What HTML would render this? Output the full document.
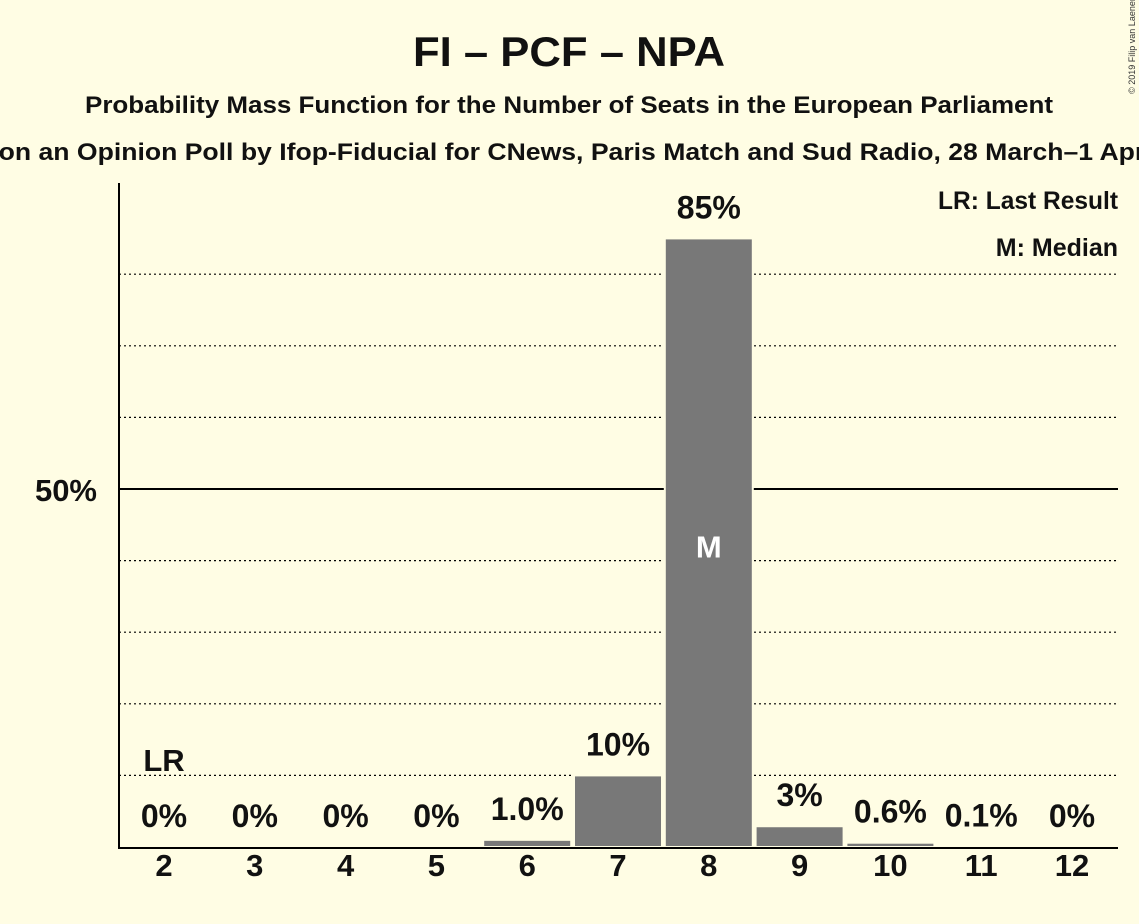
<!DOCTYPE html>
<html><head><meta charset="utf-8"><style>
html,body{margin:0;padding:0;background:#fffde4;}
svg{display:block;font-family:"Liberation Sans",sans-serif;font-weight:bold;}
</style></head><body>
<svg id="chart" width="1139" height="924" viewBox="0 0 1139 924">
<rect width="1139" height="924" fill="#fffde4"/>
<text x="569" y="66" font-size="42" text-anchor="middle" textLength="312" lengthAdjust="spacingAndGlyphs" fill="#111">FI – PCF – NPA</text>
<text x="569" y="113" font-size="24" text-anchor="middle" textLength="968" lengthAdjust="spacingAndGlyphs" fill="#111">Probability Mass Function for the Number of Seats in the European Parliament</text>
<text x="569" y="160" font-size="24" text-anchor="middle" textLength="1315" lengthAdjust="spacingAndGlyphs" fill="#111">Based on an Opinion Poll by Ifop-Fiducial for CNews, Paris Match and Sud Radio, 28 March–1 April 2019</text>
<text x="1135" y="45" font-size="9" font-weight="normal" fill="#333" transform="rotate(-90 1135 45)" text-anchor="middle">© 2019 Filip van Laenen</text>
<g id="grid"></g>
<g id="bars"></g>
<g id="labels"></g>
<line x1="119" y1="183" x2="119" y2="848" stroke="#000" stroke-width="2"/>
<line x1="118" y1="848" x2="1118" y2="848" stroke="#000" stroke-width="2"/>
<text x="97" y="501" font-size="31" text-anchor="end" fill="#111">50%</text>
<text x="1118" y="209" font-size="25" text-anchor="end" textLength="180" lengthAdjust="spacingAndGlyphs" fill="#111">LR: Last Result</text>
<text x="1118" y="256" font-size="25" text-anchor="end" fill="#111">M: Median</text>
</svg>
<script>
const categories=[2,3,4,5,6,7,8,9,10,11,12];
const values=[0,0,0,0,1.0,10,85,2.9,0.6,0.1,0];
const valueLabels=["0%","0%","0%","0%","1.0%","10%","85%","3%","0.6%","0.1%","0%"];
const gridTicks=[10,20,30,40,50,60,70,80];
const lastResult=2;
const median=8;
const NS="http://www.w3.org/2000/svg";
const x0=164,step=90.8,bw=88,base=847,pxPer=7.16;
const xs=i=>x0+i*step;
const ys=v=>base-v*pxPer;
function mk(tag,attrs,parent){const e=document.createElementNS(NS,tag);for(const k in attrs)e.setAttribute(k,attrs[k]);parent.appendChild(e);return e;}
const grid=document.getElementById('grid'),bars=document.getElementById('bars'),labels=document.getElementById('labels');
gridTicks.forEach(t=>{
  const l=mk('line',{x1:119,x2:1118,y1:ys(t),y2:ys(t),stroke:'#000','stroke-width':t===50?2:1.2,'stroke-dasharray':t===50?'none':'2,3'},grid);
  
  
});
categories.forEach((c,i)=>{
  const v=values[i];
  if(v>0){
    const r=mk('rect',{x:xs(i)-bw/2,y:ys(v),width:bw,height:base-ys(v),fill:'#787878',stroke:'#fffde4','stroke-width':2},bars);
    
    
  }
  const t=mk('text',{x:xs(i),y:ys(v)-20,'font-size':32,'text-anchor':'middle',fill:'#111'},labels);
  t.textContent=valueLabels[i];
  
  
  const tk=mk('text',{x:xs(i),y:876,'font-size':31,'text-anchor':'middle',fill:'#111'},labels);
  tk.textContent=c;
  
  
  if(c===lastResult){
    const lr=mk('text',{x:xs(i),y:ys(v)-76,'font-size':31,'text-anchor':'middle',fill:'#111'},labels);
    lr.textContent='LR';
    
    
  }
  if(c===median){
    const m=mk('text',{x:xs(i),y:(ys(v)+base)/2+15,'font-size':31,'text-anchor':'middle',fill:'#fff'},labels);
    m.textContent='M';
    
    
  }
});
</script>
</body></html>
